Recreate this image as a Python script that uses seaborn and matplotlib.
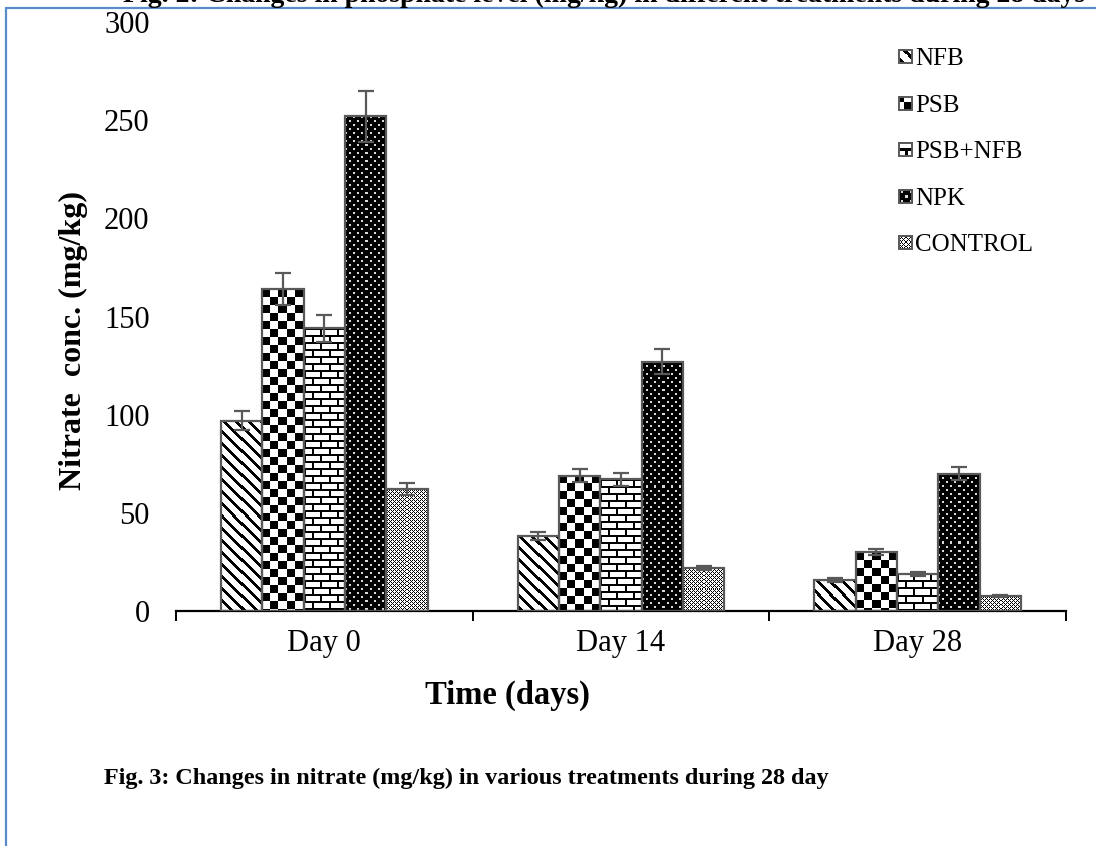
import numpy as np
import pandas as pd
import matplotlib
matplotlib.use("Agg")
import matplotlib.pyplot as plt
import seaborn as sns
from matplotlib.lines import Line2D
from matplotlib.patches import Rectangle
from matplotlib.legend_handler import HandlerBase
from matplotlib.image import BboxImage
from matplotlib.transforms import Bbox, TransformedBbox

# ---- data -------------------------------------------------------------
days = ["Day 0", "Day 14", "Day 28"]
treatments = ["NFB", "PSB", "PSB+NFB", "NPK", "CONTROL"]

nfb = [97, 38, 16]
psb = [164, 69, 30]
psb_nfb = [144, 67, 19]
npk = [252, 127, 70]
control = [62, 22, 7.5]

nfb_err = [5, 2, 1]
psb_err = [8, 3.5, 1.5]
psb_nfb_err = [7, 3.5, 1]
npk_err = [13, 6.5, 3.5]
control_err = [3, 1, 0.5]

yticks = [0, 50, 100, 150, 200, 250, 300]

values = [nfb, psb, psb_nfb, npk, control]
errors = [nfb_err, psb_err, psb_nfb_err, npk_err, control_err]

df = pd.DataFrame({
    "day": np.repeat([days], len(treatments), axis=0).ravel(),
    "treatment": np.repeat(treatments, len(days)),
    "value": np.concatenate(values),
})


# ---- fill patterns (1 = white, 0 = black) -----------------------------
def pat_diag(h, w):
    r, c = np.mgrid[0:h, 0:w]
    return np.where((c - r) % 12 < 4, 0.0, 1.0)


def pat_checker(h, w):
    r, c = np.mgrid[0:h, 0:w]
    return ((r // 8 + c // 8) % 2).astype(float)


def pat_brick(h, w):
    r, c = np.mgrid[0:h, 0:w]
    row = r // 7
    mortar_h = (r % 7) < 2
    shift = (row % 2) * 8
    mortar_v = ((c + shift) % 16) < 2
    return np.where(mortar_h | mortar_v, 0.0, 1.0)


def pat_dots(h, w):
    r, c = np.mgrid[0:h, 0:w]
    a = ((r % 8) < 2) & ((c % 8) < 2)
    b = (((r + 4) % 8) < 2) & (((c + 4) % 8) < 2)
    out = np.zeros((h, w))
    out[a | b] = 0.85
    return out


def pat_fine(h, w):
    r, c = np.mgrid[0:h, 0:w]
    black = ((r + c) % 4 == 0) | ((r - c) % 4 == 0)
    return np.where(black, 0.0, 1.0)


patterns = [pat_diag, pat_checker, pat_brick, pat_dots, pat_fine]

# ---- figure -------------------------------------------------------------
sns.set_theme(style="white")
plt.rcParams["font.family"] = ["Liberation Serif", "DejaVu Serif"]

W, H = 1096, 846
fig = plt.figure(figsize=(W / 100, H / 100), dpi=100)
fig.patch.set_facecolor("white")
ax = fig.add_axes([176 / W, 1 - 611 / H, (1066 - 176) / W, (611 - 22) / H])

sns.barplot(data=df, x="day", y="value", hue="treatment", order=days,
            hue_order=treatments, errorbar=None, width=0.697, gap=0,
            palette=["white"] * 5, edgecolor="#595959", linewidth=1.6,
            legend=False, ax=ax, zorder=3)

ax.set_xlim(-0.5, 2.5)
ax.set_ylim(0, 300)
fig.canvas.draw()

edge = "#595959"
for cont, pat, errs in zip(ax.containers, patterns, errors):
    xs, ys = [], []
    for bar in cont.patches:
        x0, y0 = bar.get_x(), bar.get_y()
        bw, bh = bar.get_width(), bar.get_height()
        p0 = ax.transData.transform((x0, y0))
        p1 = ax.transData.transform((x0 + bw, y0 + bh))
        wpx = max(int(round(p1[0] - p0[0])), 1)
        hpx = max(int(round(p1[1] - p0[1])), 1)
        ax.imshow(pat(hpx, wpx), extent=(x0, x0 + bw, y0, y0 + bh),
                  aspect="auto", interpolation="nearest", cmap="gray",
                  vmin=0, vmax=1, zorder=2)
        bar.set_facecolor("none")
        xs.append(x0 + bw / 2)
        ys.append(y0 + bh)
    ax.errorbar(xs, ys, yerr=errs, fmt="none", ecolor=edge,
                elinewidth=1.6, capsize=5.5, capthick=1.6, zorder=4)

ax.set_xlim(-0.5, 2.5)
ax.set_ylim(0, 300)

# axes styling
for s in ["left", "top", "right"]:
    ax.spines[s].set_visible(False)
ax.spines["bottom"].set_color("black")
ax.spines["bottom"].set_linewidth(1.6)
ax.set_yticks(yticks)
ax.set_yticklabels([str(t) for t in yticks], fontsize=22, color="black")
ax.tick_params(axis="y", length=0, pad=19)
ax.set_xticks(range(len(days)))
ax.set_xticklabels(days, fontsize=22, color="black")
ax.tick_params(axis="x", which="major", length=0, pad=13)
ax.set_xticks([-0.5, 0.5, 1.5, 2.5], minor=True)
ax.tick_params(axis="x", which="minor", length=7.5, width=1.4,
               direction="out", color="black", bottom=True)

ax.set_ylabel("Nitrate  conc. (mg/kg)", fontsize=23, fontweight="bold",
              color="black")
ax.yaxis.set_label_coords(-0.099, 0.46)
ax.set_xlabel("Time (days)", fontsize=23.5, fontweight="bold", color="black")
ax.xaxis.set_label_coords(0.3725, -0.117)


# ---- legend with pattern swatches ------------------------------------------
class PatternHandler(HandlerBase):
    def __init__(self, tile):
        super().__init__()
        self.tile = tile

    def create_artists(self, legend, orig_handle, xdescent, ydescent,
                       width, height, fontsize, trans):
        side = 9.5
        x0 = -xdescent + width - side
        y0 = -ydescent + (height - side) / 2
        bb = TransformedBbox(Bbox.from_bounds(x0, y0, side, side), trans)
        img = BboxImage(bb, interpolation="nearest", cmap="gray",
                        norm=matplotlib.colors.Normalize(0, 1))
        img.set_data(self.tile)
        rect = Rectangle((x0, y0), side, side, fill=False, edgecolor=edge,
                         linewidth=1.4, transform=trans)
        return [img, rect]


tiles = [
    pat_diag(24, 24)[6:19, 4:17],
    pat_checker(16, 16)[2:15, 3:16],
    pat_brick(14, 16)[1:14, 2:15],
    pat_dots(16, 16)[2:15, 2:15],
    pat_fine(13, 13),
]
handles = [Rectangle((0, 0), 1, 1) for _ in treatments]
hmap = {h: PatternHandler(t) for h, t in zip(handles, tiles)}
leg = ax.legend(handles, treatments, handler_map=hmap, loc="upper left",
                bbox_to_anchor=(0.8, 0.973), frameon=False, fontsize=18,
                handlelength=0.55, handletextpad=0.12, labelspacing=0.96,
                borderaxespad=0)
for t in leg.get_texts():
    t.set_color("black")

# ---- page elements ----------------------------------------------------------
blue = "#5A8BCB"
fig.add_artist(Line2D([6 / W, 6 / W], [0, 1 - 8 / H], color=blue, lw=1.6,
                      transform=fig.transFigure))
fig.add_artist(Line2D([6 / W, 1], [1 - 8 / H, 1 - 8 / H], color=blue, lw=1.6,
                      transform=fig.transFigure))
fig.text(604 / W, 1 - 1.5 / H,
         "Fig. 2: Changes in phosphate level (mg/kg) in different treatments during 28 days",
         ha="center", va="baseline", fontsize=20, fontweight="bold",
         color="black")
fig.text(104 / W, 1 - 778 / H,
         "Fig. 3: Changes in nitrate (mg/kg) in various treatments during 28 day",
         ha="left", va="center", fontsize=17.4, fontweight="bold", color="black")

fig.savefig("out.png", dpi=100, facecolor="white")
